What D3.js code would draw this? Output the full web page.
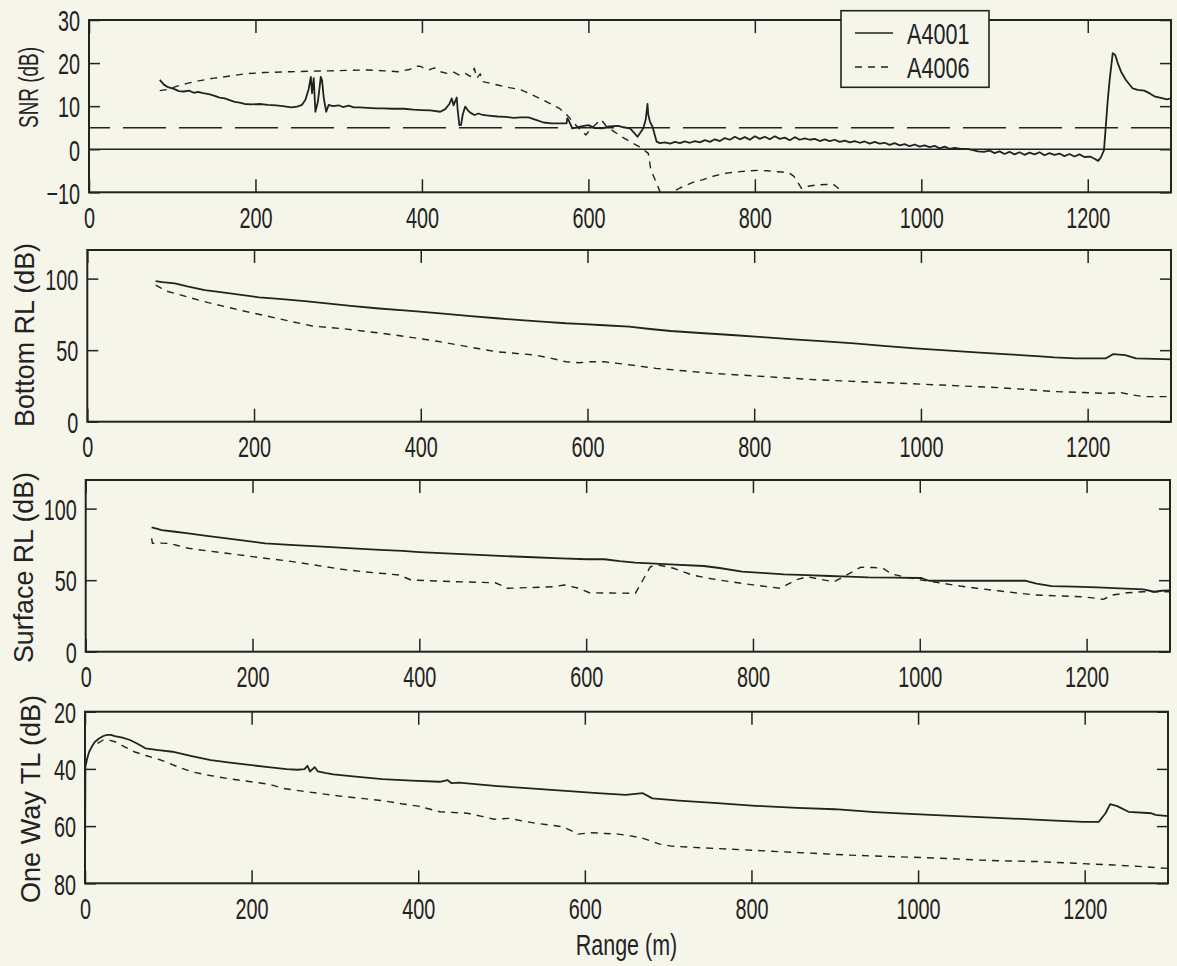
<!DOCTYPE html>
<html>
<head>
<meta charset="utf-8">
<script src="https://cdn.jsdelivr.net/npm/d3@7"></script>
<style>
  html, body { margin: 0; padding: 0; background: #f6f5ea; }
  svg { display: block; }
</style>
</head>
<body>
<svg id="chart" width="1177" height="966"></svg>
<script>
// Range axis shared by all four panels
const rangeTicks = [0, 200, 400, 600, 800, 1000, 1200];
const rangeDomain = [0, 1300];

// Y tick values per panel
const snrTicks = [-10, 0, 10, 20, 30];
const rlTicks = [0, 50, 100];
const tlTicks = [20, 40, 60, 80];

// SNR reference levels (solid zero line, dashed detection threshold)
const snrZero = 0;
const snrThreshold = 5;

const seriesNames = ["A4001", "A4006"];

// SNR (dB) vs range (m)
const snrA4001 = [[85,16.1],[90,15.0],[95,14.4],[102,14.0],[108,13.5],[114,13.4],[120,13.6],[126,13.1],[131,13.3],[137,13.0],[144,12.8],[151,12.4],[157,12.0],[163,11.8],[169,11.4],[175,11.0],[181,10.8],[187,10.5],[195,10.4],[205,10.5],[215,10.3],[225,10.2],[233,10.0],[243,9.7],[250,9.9],[256,10.3],[260,11.5],[264,14.0],[266.5,16.8],[268,13.0],[270,16.5],[272,8.7],[275,11.0],[278.5,16.8],[280,16.0],[282,12.0],[285,8.7],[288,10.3],[293,10.0],[300,10.2],[305,9.8],[312,10.1],[318,9.7],[325,9.7],[335,9.6],[345,9.5],[353,9.5],[365,9.4],[378,9.4],[390,9.2],[399,9.1],[410,9.0],[422,8.7],[428,9.3],[433,10.5],[435.8,11.8],[438,10.2],[441.8,12.0],[443,9.0],[445,5.6],[447,5.6],[449,8.0],[452,9.9],[455,9.1],[458,8.5],[463,7.95],[468,8.3],[473,7.95],[480,7.8],[491,7.6],[500,7.5],[510,7.3],[519,7.4],[528,7.4],[537,6.8],[546,6.2],[556,6.0],[565,6.0],[573.8,6.0],[574.7,7.2],[576,6.8],[580.7,4.85],[590,5.25],[600,5.6],[608,4.9],[617,4.85],[625,5.3],[636,5.4],[642,5.1],[650,4.85],[655,3.8],[659,2.9],[663,4.0],[666,4.85],[669,7.0],[671,10.5],[672,8.0],[674,6.4],[677,5.25],[682,1.75],[686,1.4],[692,1.6],[698,1.3],[704,1.7],[710,1.4],[716,1.8],[722,1.5],[728,1.9],[734,1.6],[740,2.1],[746,1.7],[752,2.3],[758,1.9],[764,2.6],[770,2.2],[776,2.9],[782,2.3],[788,2.8],[794,2.2],[800,3.0],[806,2.4],[812,2.9],[818,2.3],[824,3.0],[830,2.4],[836,2.7],[842,2.1],[848,2.8],[854,2.2],[860,2.5],[866,2.2],[872,2.4],[878,1.9],[884,2.3],[890,1.9],[896,2.2],[902,1.7],[908,2.0],[914,1.6],[920,1.9],[926,1.5],[932,1.8],[938,1.3],[944,1.7],[950,1.3],[956,1.5],[962,1.0],[968,1.4],[974,0.9],[980,1.2],[986,0.7],[992,1.1],[998,0.6],[1004,0.9],[1010,0.5],[1016,0.8],[1022,0.2],[1028,0.6],[1034,0.1],[1040,0.3],[1048,0.05],[1055,0.1],[1062,-0.2],[1068,-0.5],[1075,-0.6],[1082,-0.3],[1088,-0.9],[1094,-0.5],[1100,-1.1],[1106,-0.6],[1112,-1.2],[1118,-0.7],[1124,-1.3],[1130,-0.8],[1136,-1.2],[1142,-0.7],[1148,-1.4],[1154,-0.9],[1160,-1.3],[1166,-1.0],[1172,-1.6],[1178,-1.1],[1184,-1.7],[1190,-1.2],[1196,-1.8],[1203,-1.7],[1208,-2.2],[1212.6,-2.7],[1216,-1.8],[1219.5,-0.2],[1224,11.4],[1226.3,16.1],[1230,22.3],[1233,21.9],[1236,20.0],[1240,18.0],[1246,16.0],[1254,14.1],[1260,13.8],[1268,13.6],[1275,12.9],[1281,12.2],[1288,11.9],[1295,11.6],[1300,11.8]];
const snrA4006 = [[85,13.6],[95,13.9],[105,14.6],[118,15.3],[130,15.8],[150,16.5],[170,17.0],[187,17.5],[210,17.8],[242,18.0],[265,18.1],[289,18.2],[310,18.3],[335,18.4],[355,18.2],[371,18.0],[385,18.5],[395,19.3],[399,19.2],[404,18.6],[408,18.4],[415,18.9],[422,18.0],[430,17.6],[438,17.9],[445,17.2],[452,17.6],[458,16.9],[463,18.8],[466,16.5],[470,17.5],[473,15.7],[480,15.4],[491,14.9],[505,14.3],[519,13.8],[537,12.2],[550,11.0],[565,9.5],[575,7.8],[583,6.0],[590,4.6],[597,3.3],[603,4.8],[608,5.6],[615,6.9],[622,5.25],[630,4.2],[640,2.9],[650,1.75],[661,0.6],[672,-0.95],[675,-4.8],[682,-7.9],[686,-9.85],[692,-11.0],[697,-10.6],[702,-9.85],[710,-9.0],[718,-8.3],[727,-7.6],[737,-7.1],[746,-6.5],[755,-6.0],[768,-5.5],[782,-5.2],[795,-5.0],[805,-4.9],[815,-5.0],[824,-5.2],[833,-5.3],[842,-5.6],[847,-6.3],[851,-7.5],[856,-9.1],[864,-8.6],[874,-8.3],[885,-8.2],[894,-8.1],[900,-9.0],[905,-10.8],[912,-12.5]];

// Bottom reverberation level (dB)
const bottomA4001 = [[82,98.3],[90,97.6],[105,96.7],[120,94.6],[141,92.0],[160,90.6],[180,89.0],[206,86.9],[230,85.8],[261,84.3],[290,82.5],[316,80.9],[350,79.1],[380,77.8],[399,76.9],[430,75.4],[460,73.8],[491,72.3],[520,71.0],[550,69.8],[574,68.8],[590,68.4],[620,67.4],[650,66.4],[675,64.8],[700,63.4],[735,62.0],[773,60.6],[810,59.1],[847,57.6],[885,56.2],[920,54.8],[955,53.0],[993,51.3],[1030,49.9],[1066,48.5],[1100,47.2],[1139,45.9],[1160,45.0],[1185,44.3],[1210,44.2],[1222,44.3],[1231,47.3],[1245,46.6],[1258,44.3],[1280,43.9],[1300,43.6]];
const bottomA4006 = [[82,95.5],[88,93.5],[95,91.3],[110,88.9],[123,86.7],[145,83.2],[169,79.9],[192,76.8],[215,73.9],[240,70.6],[270,66.9],[290,65.8],[307,65.0],[330,63.4],[353,61.8],[375,60.1],[399,58.0],[420,56.2],[445,53.6],[470,51.0],[491,48.9],[515,47.7],[537,46.6],[555,44.5],[574,41.9],[590,41.2],[604,41.9],[620,41.9],[636,40.8],[660,39.0],[682,37.3],[715,35.6],[750,33.8],[783,32.6],[825,31.1],[865,29.6],[910,28.4],[956,27.3],[990,26.5],[1025,25.6],[1060,24.7],[1094,23.8],[1130,22.4],[1162,21.0],[1195,20.4],[1222,19.8],[1240,20.3],[1255,18.6],[1268,17.5],[1300,17.5]];

// Surface reverberation level (dB)
const surfaceA4001 = [[79,86.9],[85,86.0],[91,85.0],[105,84.0],[123,82.7],[145,81.0],[169,79.2],[190,77.6],[215,75.7],[250,74.5],[284,73.4],[320,72.2],[353,71.1],[380,70.4],[400,69.6],[445,68.3],[490,67.1],[537,66.0],[570,65.2],[601,64.6],[622,64.6],[640,63.3],[659,62.2],[700,61.0],[741,59.9],[760,58.5],[787,55.9],[810,55.1],[837,54.1],[865,53.5],[892,52.9],[915,52.5],[938,52.0],[970,51.8],[1002,51.5],[1011,49.6],[1060,49.6],[1100,49.6],[1126,49.6],[1140,47.6],[1158,45.9],[1185,45.5],[1213,45.0],[1240,44.3],[1268,43.6],[1281,41.9],[1290,42.6],[1300,42.8]];
const surfaceA4006 = [[79,79.2],[80,75.7],[90,75.9],[100,75.7],[110,74.2],[123,72.3],[145,70.5],[169,68.8],[190,67.2],[215,65.3],[240,63.6],[261,61.8],[285,59.6],[307,57.6],[330,56.1],[353,54.8],[376,53.6],[390,50.1],[420,49.4],[445,48.9],[470,48.5],[491,48.2],[500,46.0],[505,44.3],[530,44.8],[560,45.4],[574,46.6],[590,44.5],[604,41.2],[630,41.0],[659,40.8],[668,50.1],[677,59.4],[686,60.6],[705,58.3],[727,53.6],[750,51.0],[773,48.9],[800,46.7],[833,44.3],[851,50.1],[865,52.4],[880,50.7],[897,48.9],[912,53.5],[929,59.0],[945,58.8],[956,58.3],[966,54.3],[985,51.9],[1002,50.1],[1025,48.0],[1048,45.9],[1070,44.2],[1094,42.6],[1117,41.0],[1139,39.6],[1165,39.0],[1194,38.4],[1210,37.4],[1220,36.6],[1231,39.6],[1249,41.2],[1268,41.9],[1300,41.9]];

// One-way transmission loss (dB)
const tlA4001 = [[0,79.5],[0.5,39.2],[2.7,36.3],[5,34.0],[8.2,32.2],[12,30.5],[17.4,29.3],[22,28.5],[26.6,28.1],[31,28.1],[35.8,28.5],[45,29.1],[54,29.9],[63,31.2],[72.5,32.8],[88,33.4],[105,34.0],[128,35.5],[151,36.9],[174,37.8],[197,38.6],[220,39.4],[242,40.1],[255,40.3],[263.5,40.1],[267,38.9],[270,40.9],[275.8,39.4],[279.5,40.9],[288,41.4],[298,41.9],[328,42.8],[357,43.6],[392,44.1],[426,44.5],[435,43.9],[440,45.0],[449,44.8],[472,45.4],[495,46.0],[530,46.7],[564,47.4],[594,48.0],[615,48.5],[649,49.1],[669.6,48.5],[681,50.3],[713,51.1],[759,52.0],[805,52.9],[855,53.6],[900,54.1],[948,55.1],[996,55.8],[1047,56.5],[1095,57.1],[1152,57.9],[1198,58.5],[1217,58.5],[1225,55.5],[1230.6,52.3],[1239,53.0],[1252.6,55.0],[1280,55.5],[1285,56.1],[1300,56.5]];
const tlA4006 = [[15,31.1],[22,29.9],[30,30.0],[36,30.5],[47,32.2],[59,34.0],[75,35.5],[91,36.9],[110,39.1],[128,41.0],[150,42.3],[174,43.5],[197,44.4],[220,45.3],[238,46.8],[252,47.4],[266,48.0],[290,48.9],[311,49.7],[335,50.4],[357,51.1],[380,52.2],[400,53.0],[426,55.0],[440,55.2],[459,55.5],[475,56.5],[491,57.6],[509,57.3],[525,58.2],[541,59.0],[557,59.6],[573,60.2],[583,61.5],[592,62.8],[608,62.3],[625,62.6],[640,62.8],[655,63.4],[670,64.3],[690,66.3],[704,67.0],[740,67.6],[777,68.1],[806,68.5],[837,69.0],[875,69.5],[914,70.1],[960,70.6],[1006,71.0],[1040,71.4],[1074,71.9],[1110,72.2],[1143,72.4],[1189,73.0],[1234,73.6],[1265,74.1],[1300,74.8]];

// ---------------------------------------------------------------------------
const INK = "#222222";
const BG = "#f6f5ea";
const FONT = "'Liberation Sans', Arial, Helvetica, sans-serif";
const TICK_FONT = 30;         // tick numerals: tall and narrow
const NARROW = 0.66;          // horizontal squeeze of the tick numerals
const solidStyle = { dash: null, width: 1.8 };
const dashStyle = { dash: "7,6", width: 1.4 };

const panels = [
  { box: { left: 89,   right: 1171, top: 20,    bottom: 192.3 }, yDomain: [-10, 30], yTicks: snrTicks,
    label: "SNR (dB)", labelX: 38, labelY: 87.5, labelLen: 81,
    series: [snrA4001, snrA4006] },
  { box: { left: 87.3, right: 1171, top: 250,   bottom: 421.7 }, yDomain: [0, 120], yTicks: rlTicks,
    label: "Bottom RL (dB)", labelX: 34, labelY: 335, labelLen: 184,
    series: [bottomA4001, bottomA4006] },
  { box: { left: 85.7, right: 1170, top: 480,   bottom: 651.7 }, yDomain: [0, 120], yTicks: rlTicks,
    label: "Surface RL (dB)", labelX: 33, labelY: 567.5, labelLen: 191,
    series: [surfaceA4001, surfaceA4006] },
  { box: { left: 85,   right: 1168, top: 711.7, bottom: 883.3 }, yDomain: [80, 20], yTicks: tlTicks,
    label: "One Way TL (dB)", labelX: 40, labelY: 799, labelLen: 208,
    series: [tlA4001, tlA4006] }
];
const styles = [solidStyle, dashStyle];

const svg = d3.select("#chart");
svg.append("rect").attr("width", 1177).attr("height", 966).attr("fill", BG);

function styleTicks(sel) {
  sel.select(".domain").remove();
  sel.selectAll(".tick line").attr("stroke", INK).attr("stroke-width", 1.5);
  sel.selectAll(".tick text")
    .attr("fill", INK)
    .style("font-family", FONT)
    .style("font-size", TICK_FONT + "px");
}

panels.forEach((p, i) => {
  const b = p.box;
  const x = d3.scaleLinear().domain(rangeDomain).range([b.left, b.right]);
  const y = d3.scaleLinear().domain(p.yDomain).range([b.bottom, b.top]);
  const g = svg.append("g").attr("class", "panel");

  const clipId = "clip" + i;
  svg.append("clipPath").attr("id", clipId)
    .append("rect").attr("x", b.left).attr("y", b.top)
    .attr("width", b.right - b.left).attr("height", b.bottom - b.top);

  const plot = g.append("g").attr("clip-path", `url(#${clipId})`);

  if (i === 0) {
    plot.append("line")
      .attr("x1", x(rangeDomain[0])).attr("x2", x(rangeDomain[1]))
      .attr("y1", y(snrZero)).attr("y2", y(snrZero))
      .attr("stroke", INK).attr("stroke-width", 1.5);
    plot.append("line")
      .attr("x1", x(rangeDomain[0])).attr("x2", x(rangeDomain[1]))
      .attr("y1", y(snrThreshold)).attr("y2", y(snrThreshold))
      .attr("stroke", INK).attr("stroke-width", 1.5)
      .attr("stroke-dasharray", "43,13").attr("stroke-dashoffset", 22);
  }

  const line = d3.line().x(d => x(d[0])).y(d => y(d[1]));
  p.series.forEach((s, k) => {
    plot.append("path")
      .datum(s)
      .attr("d", line)
      .attr("fill", "none")
      .attr("stroke", INK)
      .attr("stroke-width", styles[k].width)
      .attr("stroke-linejoin", "round")
      .attr("stroke-dasharray", styles[k].dash);
  });

  // axes with inward ticks on all four sides
  const bottomAxis = g.append("g").attr("transform", `translate(0,${b.bottom})`)
    .call(d3.axisBottom(x).tickValues(rangeTicks).tickSizeInner(-13).tickSizeOuter(0)
      .tickPadding(14).tickFormat(d3.format("d")));
  styleTicks(bottomAxis);
  bottomAxis.selectAll(".tick text").attr("transform", `scale(${NARROW},1)`);

  const topAxis = g.append("g").attr("transform", `translate(0,${b.top})`)
    .call(d3.axisTop(x).tickValues(rangeTicks).tickSizeInner(-13).tickSizeOuter(0).tickFormat(() => ""));
  styleTicks(topAxis);

  const leftAxis = g.append("g").attr("transform", `translate(${b.left},0)`)
    .call(d3.axisLeft(y).tickValues(p.yTicks).tickSizeInner(-11).tickSizeOuter(0)
      .tickPadding(9).tickFormat(d3.format("d")));
  styleTicks(leftAxis);
  leftAxis.selectAll(".tick text")
    .attr("x", -9 / NARROW)
    .attr("dy", "0.36em")
    .attr("transform", `scale(${NARROW},1)`);

  const rightAxis = g.append("g").attr("transform", `translate(${b.right},0)`)
    .call(d3.axisRight(y).tickValues(p.yTicks).tickSizeInner(-11).tickSizeOuter(0).tickFormat(() => ""));
  styleTicks(rightAxis);

  g.append("rect")
    .attr("x", b.left).attr("y", b.top)
    .attr("width", b.right - b.left).attr("height", b.bottom - b.top)
    .attr("fill", "none").attr("stroke", INK).attr("stroke-width", 2);

  g.append("text")
    .attr("transform", `translate(${p.labelX},${p.labelY}) rotate(-90)`)
    .attr("text-anchor", "middle")
    .attr("textLength", p.labelLen)
    .attr("lengthAdjust", "spacingAndGlyphs")
    .attr("fill", INK)
    .style("font-family", FONT)
    .style("font-size", "28px")
    .text(p.label);

  // legend sits in the SNR panel
  if (i === 0) {
    const lg = g.append("g");
    lg.append("rect").attr("x", 841).attr("y", 10.7).attr("width", 148).attr("height", 76.6)
      .attr("fill", BG).attr("stroke", INK).attr("stroke-width", 1.6);
    seriesNames.forEach((name, k) => {
      const ry = 33 + k * 34;
      lg.append("line").attr("x1", 855).attr("x2", 893).attr("y1", ry).attr("y2", ry)
        .attr("stroke", INK).attr("stroke-width", k === 0 ? 1.6 : 1.4)
        .attr("stroke-dasharray", styles[k].dash);
      lg.append("text")
        .attr("transform", `translate(907,${ry}) scale(0.72,1)`)
        .attr("dy", "0.36em")
        .attr("fill", INK)
        .style("font-family", FONT)
        .style("font-size", "30px")
        .text(name);
    });
  }
});

// shared x-axis title under the last panel
const last = panels[panels.length - 1].box;
svg.append("text")
  .attr("transform", `translate(${(last.left + last.right) / 2},955) scale(0.74,1)`)
  .attr("text-anchor", "middle")
  .attr("fill", INK)
  .style("font-family", FONT)
  .style("font-size", "29px")
  .text("Range (m)");
</script>
</body>
</html>
